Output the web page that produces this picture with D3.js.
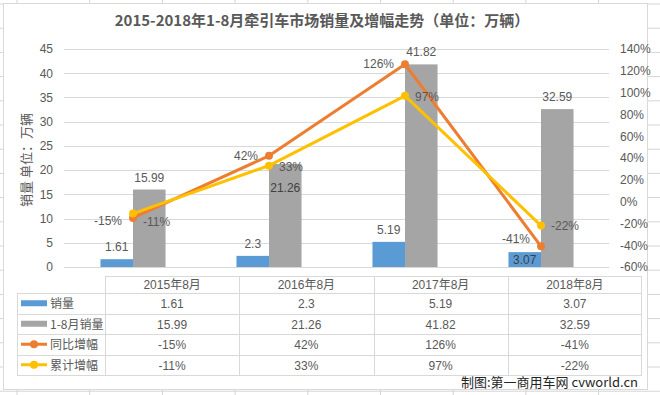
<!DOCTYPE html>
<html>
<head>
<meta charset="utf-8">
<script src="https://cdn.jsdelivr.net/npm/d3@7"></script>
<style>
  body { margin: 0; background: #fff; }
  svg text { font-family: "Liberation Sans", "Noto Sans CJK SC", sans-serif; }
</style>
</head>
<body>
<svg id="chart" width="660" height="395"></svg>
<script>
// 数据
const categories = ["2015年8月", "2016年8月", "2017年8月", "2018年8月"];
const sales = [1.61, 2.3, 5.19, 3.07];          // 销量
const cumSales = [15.99, 21.26, 41.82, 32.59];  // 1-8月销量
const yoy = [-15, 42, 126, -41];                 // 同比增幅 %
const cumGrowth = [-11, 33, 97, -22];            // 累计增幅 %
const leftTicks = [0, 5, 10, 15, 20, 25, 30, 35, 40, 45];
const rightTicks = [-60, -40, -20, 0, 20, 40, 60, 80, 100, 120, 140];

const BLUE = "#5B9BD5", GRAY = "#A5A5A5", ORANGE = "#ED7D31", YELLOW = "#FFC000";
const TXT = "#595959", GRID = "#D9D9D9";

const svg = d3.select("#chart");

// 表格背后的工作表网格线
const sheet = svg.append("g").attr("stroke", "#d4d4d4").attr("stroke-width", 1);
d3.range(17, 660, 72.7).forEach(x => {
    sheet.append("line").attr("x1", x).attr("x2", x).attr("y1", 0).attr("y2", 395);
});
d3.range(4, 395, 24.2).forEach(y => {
    sheet.append("line").attr("x1", 0).attr("x2", 660).attr("y1", y).attr("y2", y);
});

// 图表区
svg.append("rect")
    .attr("x", 3.5).attr("y", 3.5).attr("width", 644).attr("height", 386)
    .attr("fill", "#fff").attr("stroke", "#d9d9d9");

svg.append("text")
    .attr("x", 322).attr("y", 26)
    .attr("text-anchor", "middle")
    .attr("font-size", 15).attr("font-weight", "bold")
    .attr("fill", TXT)
    .style("font-family", "'Noto Sans CJK SC', sans-serif")
    .text("2015-2018年1-8月牵引车市场销量及增幅走势（单位：万辆）");

const x = d3.scaleBand().domain(categories).range([65, 609]);
const xs = d3.scaleBand().domain(["sales", "cum"]).range([0, x.bandwidth()])
    .paddingInner(0).paddingOuter(1.09);
const yL = d3.scaleLinear().domain([0, 45]).range([267, 49]);
const yR = d3.scaleLinear().domain([-60, 140]).range([267, 49]);

// 网格线
svg.append("g")
    .selectAll("line")
    .data(leftTicks)
    .enter()
    .append("line")
    .attr("x1", 64).attr("x2", 609)
    .attr("y1", d => Math.round(yL(d)) + 0.5)
    .attr("y2", d => Math.round(yL(d)) + 0.5)
    .attr("stroke", GRID);

// 左轴
const leftAxis = svg.append("g")
    .attr("transform", "translate(64,0)")
    .call(d3.axisLeft(yL).tickValues(leftTicks).tickSize(0).tickPadding(11));
leftAxis.select(".domain").remove();
leftAxis.selectAll("text").attr("font-size", 12).attr("fill", TXT);

// 右轴
const rightAxis = svg.append("g")
    .attr("transform", "translate(609,0)")
    .call(d3.axisRight(yR).tickValues(rightTicks).tickSize(0).tickPadding(11)
        .tickFormat(d => d + "%"));
rightAxis.select(".domain").remove();
rightAxis.selectAll("text").attr("font-size", 12).attr("fill", TXT);

svg.append("text")
    .attr("transform", "translate(31,160) rotate(-90)")
    .attr("text-anchor", "middle")
    .attr("font-size", 13)
    .attr("fill", TXT)
    .style("font-family", "'Noto Sans CJK SC', sans-serif")
    .text("销量 单位：万辆");

// 柱子
const barSeries = [
    { key: "sales", values: sales, color: BLUE },
    { key: "cum", values: cumSales, color: GRAY }
];
barSeries.forEach(s => {
    svg.append("g")
        .selectAll("rect")
        .data(s.values)
        .enter()
        .append("rect")
        .attr("x", (d, i) => x(categories[i]) + xs(s.key))
        .attr("width", xs.bandwidth())
        .attr("y", d => yL(d))
        .attr("height", d => yL(0) - yL(d))
        .attr("fill", s.color);
});

// 柱子标签 (21.26 和 3.07 在柱内)
const insideSales = [false, false, false, true];
const insideCum = [false, true, false, false];
svg.append("g").selectAll("text")
    .data(sales).enter().append("text")
    .attr("x", (d, i) => x(categories[i]) + xs("sales") + xs.bandwidth() / 2)
    .attr("y", (d, i) => insideSales[i] ? yL(d) + 12 : yL(d) - 8)
    .attr("text-anchor", "middle").attr("font-size", 12)
    .attr("fill", (d, i) => insideSales[i] ? "#404040" : TXT)
    .text(d => d);
svg.append("g").selectAll("text")
    .data(cumSales).enter().append("text")
    .attr("x", (d, i) => x(categories[i]) + xs("cum") + xs.bandwidth() / 2)
    .attr("y", (d, i) => insideCum[i] ? yL(d) + 28 : yL(d) - 8)
    .attr("text-anchor", "middle").attr("font-size", 12)
    .attr("fill", (d, i) => insideCum[i] ? "#404040" : TXT)
    .text(d => d);

// 折线
const cx = c => x(c) + x.bandwidth() / 2;
const line = d3.line().x((d, i) => cx(categories[i])).y(d => yR(d));

const lineSeries = [
    { values: yoy, color: ORANGE, side: "left", dy: [7, 4, 4, -3] },
    { values: cumGrowth, color: YELLOW, side: "right", dy: [12, 5, 5, 4] }
];
lineSeries.forEach(s => {
    svg.append("path")
        .datum(s.values)
        .attr("d", line)
        .attr("fill", "none")
        .attr("stroke", s.color)
        .attr("stroke-width", 3)
        .attr("stroke-linejoin", "round");
    svg.append("g").selectAll("circle")
        .data(s.values).enter().append("circle")
        .attr("cx", (d, i) => cx(categories[i]))
        .attr("cy", d => yR(d))
        .attr("r", 4)
        .attr("fill", s.color);
    svg.append("g").selectAll("text")
        .data(s.values).enter().append("text")
        .attr("x", (d, i) => cx(categories[i]) + (s.side === "left" ? -11 : 10))
        .attr("y", (d, i) => yR(d) + s.dy[i])
        .attr("text-anchor", s.side === "left" ? "end" : "start")
        .attr("font-size", 12)
        .attr("fill", TXT)
        .text(d => d + "%");
});

// 数据表
const tx = d3.scaleBand().domain(categories).range([105, 642]);
const rowNames = ["销量", "1-8月销量", "同比增幅", "累计增幅"];
const rowData = [sales, cumSales, yoy.map(d => d + "%"), cumGrowth.map(d => d + "%")];
const ty = d3.scaleBand().domain(rowNames).range([293, 375]);
const table = svg.append("g");

table.append("line").attr("x1", 105).attr("x2", 642).attr("y1", 276.5).attr("y2", 276.5).attr("stroke", GRID);
[293, 313.5, 334, 354.5, 375].forEach(y => {
    table.append("line").attr("x1", 17).attr("x2", 642)
        .attr("y1", Math.round(y) + 0.5).attr("y2", Math.round(y) + 0.5).attr("stroke", GRID);
});
categories.forEach(c => {
    table.append("line").attr("x1", Math.round(tx(c)) + 0.5).attr("x2", Math.round(tx(c)) + 0.5)
        .attr("y1", 276).attr("y2", 375).attr("stroke", GRID);
});
table.append("line").attr("x1", 641.5).attr("x2", 641.5).attr("y1", 276).attr("y2", 375).attr("stroke", GRID);
table.append("line").attr("x1", 17.5).attr("x2", 17.5).attr("y1", 293).attr("y2", 375).attr("stroke", GRID);

table.selectAll("text.head")
    .data(categories).enter().append("text")
    .attr("class", "head")
    .attr("x", c => tx(c) + tx.bandwidth() / 2)
    .attr("y", 289)
    .attr("text-anchor", "middle").attr("font-size", 12).attr("fill", TXT)
    .text(c => c);

rowNames.forEach((r, ri) => {
    table.selectAll("text.r" + ri)
        .data(rowData[ri]).enter().append("text")
        .attr("x", (d, i) => tx(categories[i]) + tx.bandwidth() / 2)
        .attr("y", ty(r) + 15)
        .attr("text-anchor", "middle").attr("font-size", 12).attr("fill", TXT)
        .text(d => d);
    table.append("text")
        .attr("x", 50).attr("y", ty(r) + 15)
        .attr("font-size", 12).attr("fill", TXT)
        .style("font-family", "'Noto Sans CJK SC', sans-serif")
        .text(r);
});

// 图例键
const keyY = r => ty(r) + ty.bandwidth() / 2;
table.append("rect").attr("x", 21).attr("y", keyY("销量") - 3).attr("width", 26).attr("height", 6).attr("fill", BLUE);
table.append("rect").attr("x", 21).attr("y", keyY("1-8月销量") - 3).attr("width", 26).attr("height", 6).attr("fill", GRAY);
[["同比增幅", ORANGE], ["累计增幅", YELLOW]].forEach(([r, col]) => {
    table.append("line").attr("x1", 21).attr("x2", 47).attr("y1", keyY(r)).attr("y2", keyY(r))
        .attr("stroke", col).attr("stroke-width", 3);
    table.append("circle").attr("cx", 34).attr("cy", keyY(r)).attr("r", 4).attr("fill", col);
});

// 水印
svg.append("text")
    .attr("x", 638).attr("y", 387)
    .attr("text-anchor", "end")
    .attr("font-size", 13)
    .attr("fill", "#262626")
    .style("font-family", "'Noto Sans CJK SC', sans-serif")
    .text("制图:第一商用车网 cvworld.cn");
</script>
</body>
</html>
